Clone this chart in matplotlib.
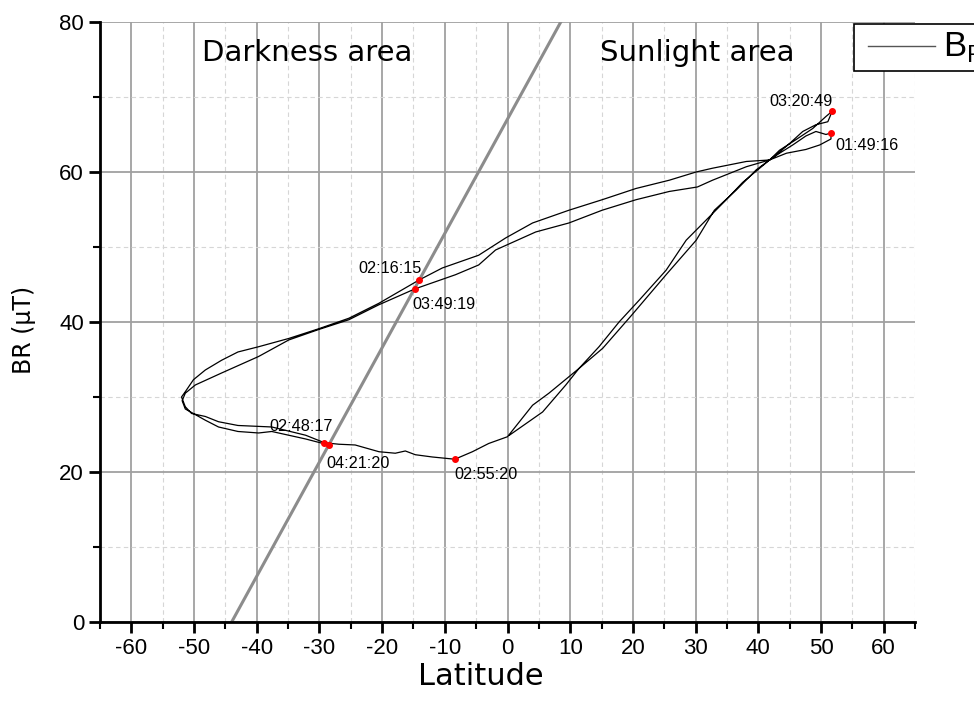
import matplotlib
matplotlib.use("Agg")
import matplotlib.pyplot as plt
from matplotlib.ticker import MultipleLocator
from matplotlib.lines import Line2D
from matplotlib.patches import Rectangle

plt.rcParams['font.family'] = ['Liberation Sans', 'DejaVu Sans']
plt.rcParams['mathtext.fontset'] = 'custom'
plt.rcParams['mathtext.rm'] = 'Liberation Sans'
plt.rcParams['axes.unicode_minus'] = False

# orbit trace: latitude (deg) and BR (uT), in time order
lat = [0.3, 5.6, 9.3, 11.4, 15.2, 19.8, 25.3, 30.1, 33.0, 36.5, 39.7, 41.8,
       44.5, 47.6, 49.8, 51.6, 51.6,
       # pass 1 descending
       50.8, 49.2, 47.6, 45.5, 43.4, 41.8, 38.1, 32.7, 30.1, 25.8, 20.5, 15.1,
       9.8, 4.0, -0.3, -4.6, -10.4, -14.1, -20.5, -25.3, -30.1, -34.9, -39.7,
       -43.0, -45.6, -48.2, -50.1, -51.4, -52.0,
       -51.4, -50.4, -48.2, -46.1, -43.0, -37.6, -32.2, -29.2, -26.9, -24.3,
       -20.5, -17.9, -16.3, -14.7, -12.0, -8.4, -5.6, -3.0, 0.0,
       4.0, 6.6, 11.4, 14.6, 17.8, 21.0, 25.3, 28.5, 31.7, 34.9, 37.5, 41.8,
       43.4, 46.0, 48.7, 50.8, 51.8,
       # pass 2 descending
       51.1, 49.2, 47.1, 45.0, 42.9, 41.8, 38.1, 32.7, 30.3, 25.8, 20.5, 15.1,
       9.8, 4.5, -1.9, -4.6, -8.3, -14.8, -20.5, -25.3, -30.1, -34.9, -39.7,
       -45.6, -49.8, -51.4, -51.9, -51.4, -48.2, -46.1, -43.0, -39.7, -37.6,
       -32.2, -28.5]
br = [24.9, 28.0, 31.6, 33.8, 36.5, 40.9, 46.3, 50.9, 54.9, 57.6, 60.3, 61.6,
      62.5, 63.0, 63.6, 64.4, 65.2,
      65.0, 65.4, 64.8, 63.6, 62.5, 61.6, 61.4, 60.5, 60.0, 58.9, 57.8, 56.3,
      54.9, 53.2, 51.2, 48.9, 47.2, 45.6, 42.5, 40.5, 39.1, 37.8, 36.7,
      36.0, 34.9, 33.6, 32.3, 30.7, 30.0,
      28.7, 27.8, 27.4, 26.7, 26.2, 26.0, 24.9, 23.9, 23.7, 23.6,
      22.7, 22.5, 22.8, 22.3, 22.0, 21.7, 22.7, 23.8, 24.7,
      28.9, 30.5, 33.8, 36.7, 40.0, 42.9, 46.9, 50.9, 53.6, 56.3, 58.6, 61.6,
      62.9, 64.3, 65.8, 67.4, 68.1,
      66.7, 66.3, 65.4, 63.8, 62.3, 61.6, 60.7, 58.9, 58.0, 57.4, 56.3, 54.9,
      53.2, 52.0, 49.6, 47.6, 46.3, 44.4, 42.3, 40.3, 39.0, 37.6, 35.4,
      33.2, 31.6, 30.5, 29.5, 28.4, 26.9, 26.0, 25.4, 25.2, 25.4,
      24.4, 23.6]

# marked times
mark_lat = [51.6, -14.1, -29.2, -8.4, 51.8, -14.8, -28.5]
mark_br = [65.2, 45.6, 23.9, 21.7, 68.1, 44.4, 23.6]
mark_txt = ['01:49:16', '02:16:15', '02:48:17', '02:55:20', '03:20:49', '03:49:19', '04:21:20']
mark_off = [(3, -9), (2, 8), (-40, 12), (0, -11), (0, 7), (-2, -11), (-2, -13)]
mark_ha = ['left', 'right', 'left', 'left', 'right', 'left', 'left']

# day/night terminator
term_lat = [-44.0, 8.5]
term_br = [0.0, 80.0]

fig = plt.figure(figsize=(9.74, 7.04), dpi=100)
ax = fig.add_axes([0.1027, 0.1165, 0.9394 - 0.1027, 0.9688 - 0.1165])

ax.plot(term_lat, term_br, color='#8c8c8c', lw=2.2, zorder=2)
ax.plot(lat, br, color='black', lw=0.9, zorder=3)
ax.scatter(mark_lat, mark_br, s=16, color='red', zorder=4)
for x, y, t, off, ha in zip(mark_lat, mark_br, mark_txt, mark_off, mark_ha):
    ax.annotate(t, (x, y), xytext=off, textcoords='offset points', ha=ha,
                va='center', fontsize=11.7)

ax.set_xlim(-65, 65)
ax.set_ylim(0, 80)
ax.xaxis.set_major_locator(MultipleLocator(10))
ax.xaxis.set_minor_locator(MultipleLocator(5))
ax.yaxis.set_major_locator(MultipleLocator(20))
ax.yaxis.set_minor_locator(MultipleLocator(10))
ax.grid(which='major', color='#a0a0a0', lw=1.3, ls='-', zorder=0)
ax.grid(which='minor', color='#d6d6d6', lw=0.8, ls=(0, (4, 3)), zorder=0)
ax.set_axisbelow(True)

for s in ['top', 'right']:
    ax.spines[s].set_visible(False)
for s in ['left', 'bottom']:
    ax.spines[s].set_linewidth(2)
ax.tick_params(which='major', direction='out', length=8, width=2, labelsize=16)
ax.tick_params(which='minor', direction='out', length=5, width=1.5)

ax.set_xlabel('Latitude', fontsize=22, family='DejaVu Sans')
ax.xaxis.set_label_coords(0.4675, -0.066)
ax.set_ylabel('BR (µT)', fontsize=17, family='DejaVu Sans')
ax.yaxis.set_label_coords(-0.079, 0.487)

ax.text(202 / 974, 1 - 53 / 704, 'Darkness area', transform=fig.transFigure,
        fontsize=21, family='DejaVu Sans', va='center', ha='left')
ax.text(600 / 974, 1 - 53 / 704, 'Sunlight area', transform=fig.transFigure,
        fontsize=21, family='DejaVu Sans', va='center', ha='left')

# legend box, running off the right edge as in the original
fig.patches.append(Rectangle((854 / 974, 1 - 71 / 704), 0.2, 47 / 704,
                             transform=fig.transFigure, facecolor='white',
                             edgecolor='black', lw=1.2, zorder=5))
fig.lines.append(Line2D([868 / 974, 935 / 974], [1 - 46 / 704, 1 - 46 / 704],
                        transform=fig.transFigure, color='#555555', lw=1, zorder=6))
fig.text(943 / 974, 1 - 47 / 704, 'B$_\\mathrm{R}$', fontsize=25,
         va='center', ha='left', zorder=7)

fig.savefig('out.png', dpi=100)
